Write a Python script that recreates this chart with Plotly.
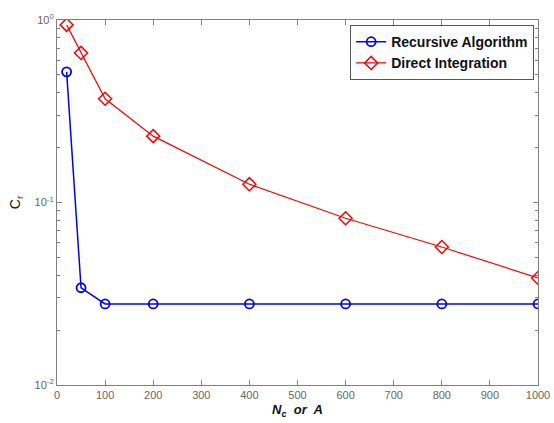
import plotly.graph_objects as go

x_vals = [20, 50, 100, 200, 400, 600, 800, 1000]
recursive = [0.52, 0.0341, 0.0278, 0.0278, 0.0278, 0.0278, 0.0278, 0.0278]
direct = [0.94, 0.66, 0.37, 0.231, 0.126, 0.082, 0.057, 0.0386]
x_ticks = [0, 100, 200, 300, 400, 500, 600, 700, 800, 900, 1000]
y_ticks = [0.01, 0.1, 1]
y_ticktext = ["10<sup>-2</sup>", "10<sup>-1</sup>", "10<sup>0</sup>"]

minor_y = [m * 10 ** k for k in (-2, -1) for m in range(2, 10)]

fig = go.Figure()
fig.add_trace(go.Scatter(
    x=x_vals, y=recursive, mode="lines+markers", name="<b>Recursive Algorithm</b>",
    line=dict(color="#0000ff", width=1.5),
    marker=dict(symbol="circle-open", size=9, color="#0000ff", line=dict(width=1.8)),
))
fig.add_trace(go.Scatter(
    x=x_vals, y=direct, mode="lines+markers", name="<b>Direct Integration</b>",
    line=dict(color="#ff0000", width=1.2),
    marker=dict(symbol="diamond-open", size=10, color="#ff0000", line=dict(width=1.5)),
))

axis_common = dict(
    showline=True, linecolor="#808080", linewidth=1.2, mirror="ticks",
    ticks="inside", tickcolor="#808080", ticklen=5,
    showgrid=False, zeroline=False, automargin=False,
    tickfont=dict(family="Liberation Sans, Arial", size=11, color="#666666"),
)

fig.update_xaxes(
    range=[0, 1000], tickvals=x_ticks,
    title=dict(text="<b><i>N<sub>c</sub>  or  A</i></b>", standoff=4,
               font=dict(family="Liberation Sans, Arial", size=13, color="#111111")),
    **axis_common,
)
fig.update_yaxes(
    type="log", range=[-2, 0], tickvals=y_ticks, ticktext=y_ticktext,
    minor=dict(tickvals=minor_y, ticks="inside", ticklen=3, tickcolor="#808080"),
    title=dict(text="C<sub>r</sub>", standoff=10,
               font=dict(family="Liberation Sans, Arial", size=14, color="#111111")),
    **axis_common,
)

fig.update_layout(
    width=554, height=423,
    margin=dict(l=57, r=16, t=20, b=38),
    paper_bgcolor="white", plot_bgcolor="white",
    showlegend=True,
    legend=dict(
        x=0.992, y=0.986, xanchor="right", yanchor="top",
        bgcolor="white", bordercolor="#555555", borderwidth=1,
        font=dict(family="Liberation Sans, Arial", size=14, color="#111111"),
        tracegroupgap=0, itemwidth=30,
    ),
)

fig.write_html("out.html", config={"displayModeBar": False})

with open("out.html", "r", encoding="utf-8") as f:
    html = f.read()
html = html.replace("<body>", '<body style="margin:0;padding:0;overflow:hidden">', 1)
with open("out.html", "w", encoding="utf-8") as f:
    f.write(html)
